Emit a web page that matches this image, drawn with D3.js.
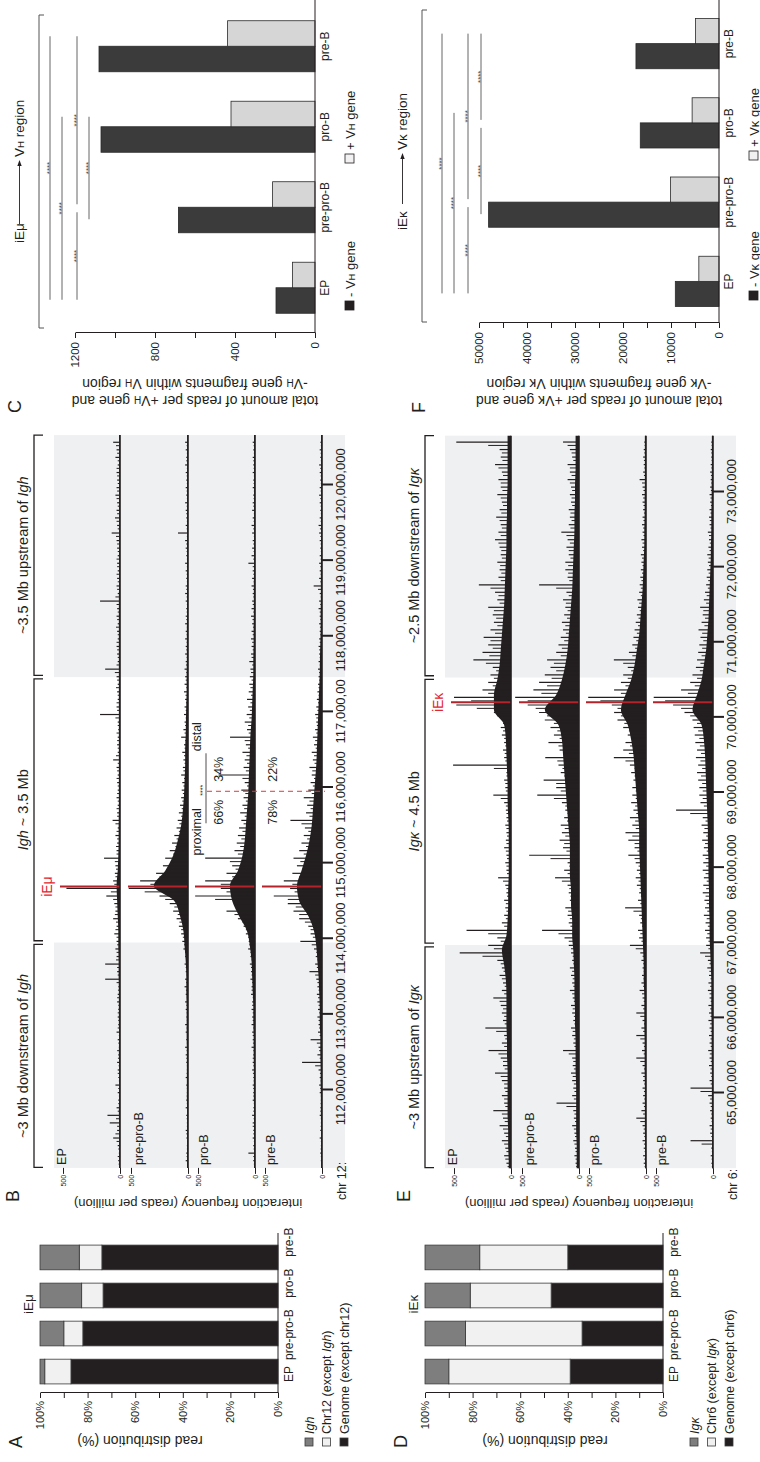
<!DOCTYPE html>
<html>
<head>
<meta charset="utf-8">
<script src="https://cdn.jsdelivr.net/npm/d3@7"></script>
<style>
  body { margin: 0; background: #fff; }
  svg text { font-family: "Liberation Sans", Arial, Helvetica, sans-serif; }
</style>
</head>
<body>
<svg id="fig" width="760" height="1462"></svg>
<script>
var stages = ['EP', 'pre-pro-B', 'pro-B', 'pre-B'];

// A / D: read distribution (%), stacked from the bottom
var ighGenome = [87, 82, 73.5, 74];
var ighChr12 = [11, 8, 9, 9.5];
var ighLocus = [2, 10, 17.5, 16.5];
var igkGenome = [39, 34, 47, 40];
var igkChr6 = [51, 49, 34, 37];
var igkLocus = [10, 17, 19, 23];
var pctTicks = [0, 10, 20, 30, 40, 50, 60, 70, 80, 90, 100];

// C / F: reads per gene fragment
var vhMinus = [195, 683, 1070, 1080];
var vhPlus = [113, 212, 420, 437];
var vkMinus = [9100, 48000, 16400, 17300];
var vkPlus = [4200, 10100, 5600, 4900];
var vhTicks = [0, 200, 400, 600, 800, 1000, 1200];
var vhTickLabels = [0, 400, 800, 1200];
var vkTicks = [0, 5000, 10000, 15000, 20000, 25000, 30000, 35000, 40000, 45000, 50000];
var vkTickLabels = [0, 10000, 20000, 30000, 40000, 50000];
// comparisons: from stage, to stage, row
var vhSig = [[0, 3, 0], [0, 2, 1], [0, 1, 2], [1, 3, 2], [1, 2, 3]];
var vkSig = [[0, 3, 0], [0, 2, 1], [0, 1, 2], [1, 3, 2], [1, 2, 3], [2, 3, 3]];

// B: Igh 4C tracks, reads per million.
// peaks = tallest spike per 0.1 Mb bin (from 111.0), grass = smaller spikes between them,
// floor = dense low signal per 0.2 Mb bin
var ighStart = 111.0;
var ighTicks = [112, 113, 114, 115, 116, 117, 118, 119, 120];
var ighTickLabels = ['112,000,000', '113,000,000', '114,000,000', '115,000,000', '116,000,000',
  '117,000,00', '118,000,000', '119,000,000', '120,000,000'];
var ighRegions = [[110.97, 113.95], [113.95, 117.46], [117.46, 120.66]];
var ighEnh = 114.69;
var ighSplit = 115.95;
var ighSplitPct = [[66, 34], [78, 22]];

var ighEP = [
  15, 10, 20, 60, 25, 90, 110, 30, 15, 20,
  40, 15, 20, 25, 15, 10, 20, 30, 15, 20,
  15, 25, 20, 15, 130, 25, 130, 30, 40, 30,
  50, 30, 60, 40, 50, 120, 470, 60, 45, 40,
  140, 30, 25, 40, 20, 65, 25, 20, 30, 20,
  25, 20, 30, 60, 20, 25, 20, 15, 20, 175,
  30, 20, 25, 20, 30, 130, 20, 25, 30, 20,
  25, 20, 30, 25, 175, 20, 30, 25, 20, 25,
  20, 25, 30, 73, 25, 44, 30, 25, 40, 30,
  25, 30, 20, 40, 30, 60];
var ighEPGrass = [
  12, 20, 15, 30, 40, 25, 35, 20, 15, 10,
  15, 10, 20, 12, 18, 25, 15, 10, 20, 15,
  20, 15, 25, 18, 30, 20, 25, 35, 30, 25,
  30, 40, 35, 45, 40, 60, 80, 50, 40, 35,
  45, 30, 35, 25, 30, 40, 25, 30, 20, 25,
  20, 30, 25, 20, 35, 20, 25, 30, 20, 40,
  25, 30, 20, 35, 25, 45, 30, 20, 25, 30,
  20, 35, 25, 20, 30, 40, 25, 20, 30, 25,
  30, 20, 25, 35, 20, 30, 25, 20, 30, 25,
  20, 25, 30, 20, 25, 35];
var ighPrePro = [
  20, 15, 10, 15, 20, 10, 15, 20, 15, 10,
  15, 20, 10, 15, 20, 25, 15, 20, 25, 15,
  20, 25, 20, 30, 25, 20, 30, 25, 40, 50,
  60, 80, 100, 130, 160, 250, 520, 420, 280, 220,
  200, 160, 140, 120, 100, 90, 80, 70, 60, 55,
  50, 60, 45, 40, 50, 35, 60, 40, 30, 35,
  30, 25, 35, 30, 25, 30, 20, 25, 20, 25,
  20, 25, 20, 15, 20, 25, 20, 15, 20, 25,
  15, 20, 25, 88, 20, 15, 20, 25, 15, 20,
  15, 20, 25, 15, 20, 25];
var ighPreProGrass = [
  8, 12, 10, 8, 15, 10, 12, 8, 10, 12,
  10, 8, 12, 10, 15, 12, 10, 8, 12, 10,
  12, 15, 10, 18, 15, 12, 20, 15, 25, 35,
  45, 60, 75, 90, 120, 200, 380, 330, 250, 180,
  150, 130, 110, 100, 80, 75, 60, 55, 50, 45,
  40, 35, 40, 30, 35, 30, 25, 30, 25, 20,
  20, 18, 22, 15, 20, 15, 18, 12, 15, 12,
  12, 10, 15, 12, 10, 12, 15, 10, 12, 10,
  10, 12, 15, 10, 12, 10, 15, 12, 10, 12,
  10, 12, 10, 15, 10, 12];
var ighPro = [
  15, 58, 15, 20, 15, 20, 25, 15, 20, 15,
  20, 15, 25, 20, 15, 30, 20, 25, 30, 25,
  30, 25, 35, 30, 40, 35, 45, 40, 60, 55,
  80, 100, 150, 250, 180, 525, 300, 437, 250, 200,
  437, 180, 160, 150, 140, 120, 130, 110, 100, 120,
  90, 320, 100, 90, 110, 80, 219, 70, 90, 73,
  60, 70, 55, 50, 45, 40, 50, 35, 30, 35,
  30, 25, 35, 30, 25, 20, 30, 25, 20, 58,
  30, 25, 20, 25, 30, 20, 25, 20, 15, 20,
  15, 20, 15, 20, 15, 20];
var ighProGrass = [
  10, 15, 12, 10, 15, 20, 12, 15, 10, 15,
  15, 12, 18, 15, 20, 15, 18, 20, 15, 20,
  20, 25, 20, 30, 25, 30, 35, 30, 40, 50,
  60, 80, 110, 180, 150, 350, 250, 300, 200, 170,
  220, 150, 130, 120, 110, 100, 90, 95, 80, 85,
  70, 110, 80, 70, 75, 60, 90, 55, 60, 50,
  45, 40, 35, 40, 30, 35, 25, 30, 20, 25,
  20, 18, 22, 15, 20, 15, 18, 12, 15, 20,
  15, 12, 15, 10, 15, 12, 10, 15, 12, 10,
  12, 10, 12, 15, 10, 12];
var ighPre = [
  10, 15, 10, 20, 15, 10, 20, 15, 10, 20,
  25, 20, 30, 175, 40, 30, 100, 35, 30, 40,
  35, 40, 45, 40, 50, 110, 60, 55, 70, 190,
  100, 120, 200, 250, 300, 423, 280, 335, 260, 220,
  250, 200, 180, 160, 150, 277, 140, 130, 160, 120,
  100, 90, 110, 80, 90, 70, 80, 60, 50, 60,
  50, 45, 40, 35, 30, 35, 30, 25, 30, 25,
  20, 25, 20, 30, 25, 20, 73, 25, 20, 25,
  20, 15, 20, 25, 30, 20, 15, 20, 25, 20,
  15, 20, 25, 15, 20, 15];
var ighPreGrass = [
  8, 10, 12, 10, 8, 12, 10, 15, 12, 10,
  15, 12, 18, 60, 20, 25, 45, 20, 25, 30,
  25, 30, 35, 30, 40, 60, 45, 40, 50, 90,
  80, 100, 150, 200, 230, 300, 240, 260, 200, 170,
  190, 160, 140, 130, 120, 180, 110, 100, 110, 90,
  80, 70, 85, 65, 70, 55, 60, 50, 45, 50,
  40, 35, 30, 30, 25, 25, 20, 20, 25, 20,
  15, 18, 15, 20, 15, 12, 35, 15, 12, 15,
  12, 10, 12, 15, 18, 12, 10, 12, 15, 12,
  10, 12, 15, 10, 12, 10];
var ighEPFloor = [8, 8, 8, 10, 8, 8, 8, 10, 8, 10, 10, 10, 12, 12, 15, 15, 20, 25, 30, 20,
  15, 12, 12, 10, 10, 10, 10, 10, 10, 10, 10, 10, 10, 10, 10, 10, 10, 10, 8, 8, 8, 8, 8, 8, 8, 8, 8, 8];
var ighPreProFloor = [8, 8, 8, 8, 10, 10, 10, 10, 12, 12, 12, 15, 15, 20, 30, 40, 70, 120, 300, 200,
  130, 90, 60, 45, 35, 30, 25, 25, 20, 18, 15, 12, 12, 10, 10, 10, 8, 8, 8, 8, 8, 8, 8, 8, 8, 8, 8, 8];
var ighProFloor = [8, 8, 8, 8, 10, 10, 10, 12, 12, 15, 15, 20, 25, 30, 45, 70, 140, 200, 220, 150,
  110, 90, 80, 70, 60, 55, 50, 45, 40, 30, 25, 20, 15, 15, 12, 12, 10, 10, 10, 8, 8, 8, 8, 8, 8, 8, 8, 8];
var ighPreFloor = [8, 8, 8, 10, 10, 12, 12, 15, 15, 20, 20, 25, 30, 40, 50, 70, 120, 200, 220, 180,
  140, 110, 90, 80, 70, 60, 50, 45, 40, 35, 30, 25, 20, 18, 15, 12, 12, 10, 10, 10, 8, 8, 8, 8, 8, 8, 8, 8];

// E: Igk 4C tracks, 0.1 Mb bins from 64.0, floor 0.2 Mb bins
var igkStart = 64.0;
var igkTicks = [65, 66, 67, 68, 69, 70, 71, 72, 73];
var igkTickLabels = ['65,000,000', '66,000,000', '67,000,000', '68,000,000', '69,000,000',
  '70,000,000', '71,000,000', '72,000,000', '73,000,000'];
var igkRegions = [[64.0, 66.97], [66.97, 70.53], [70.53, 73.75]];
var igkEnh = 70.2;

var igkEP = [
  40, 60, 50, 80, 60, 100, 70, 155, 60, 80,
  60, 80, 140, 70, 90, 197, 80, 60, 225, 70,
  80, 90, 155, 80, 70, 100, 80, 120, 450, 200,
  120, 390, 80, 60, 50, 60, 40, 50, 113, 40,
  50, 40, 60, 45, 40, 50, 40, 45, 60, 155,
  50, 60, 40, 508, 60, 70, 60, 80, 90, 80,
  150, 480, 500, 250, 200, 180, 160, 330, 250, 200,
  240, 180, 150, 160, 200, 120, 140, 282, 110, 100,
  120, 90, 100, 140, 110, 90, 130, 100, 80, 120,
  90, 110, 80, 140, 90, 100, 480];
var igkEPGrass = [
  30, 50, 40, 60, 45, 70, 55, 80, 50, 60,
  50, 60, 90, 55, 70, 110, 60, 50, 130, 55,
  60, 70, 100, 60, 55, 80, 65, 90, 250, 150,
  90, 200, 60, 45, 40, 45, 35, 40, 70, 35,
  40, 35, 45, 40, 35, 40, 35, 40, 45, 90,
  45, 50, 40, 150, 50, 55, 50, 60, 70, 70,
  120, 300, 350, 200, 160, 150, 130, 220, 190, 160,
  180, 140, 120, 130, 150, 100, 110, 180, 90, 85,
  95, 80, 85, 110, 90, 80, 100, 85, 70, 90,
  75, 90, 70, 110, 75, 80, 200];
var igkPrePro = [
  30, 40, 35, 50, 40, 60, 45, 50, 197, 60,
  50, 60, 70, 55, 60, 140, 50, 60, 70, 50,
  60, 70, 55, 80, 60, 70, 80, 60, 70, 90,
  127, 324, 90, 100, 120, 80, 90, 100, 210, 130,
  100, 437, 140, 170, 150, 160, 130, 120, 150, 366,
  200, 310, 160, 180, 296, 170, 268, 220, 250, 300,
  350, 450, 560, 400, 350, 300, 250, 280, 200, 180,
  160, 140, 150, 130, 120, 140, 110, 350, 100, 120,
  120, 90, 110, 100, 155, 90, 80, 90, 70, 80,
  70, 100, 80, 100, 60, 80, 140];
var igkPreProGrass = [
  25, 30, 30, 40, 35, 45, 35, 40, 110, 45,
  40, 45, 55, 45, 50, 90, 40, 45, 55, 40,
  45, 55, 45, 60, 50, 55, 60, 50, 55, 70,
  90, 180, 75, 80, 95, 70, 75, 85, 150, 100,
  85, 250, 110, 130, 120, 125, 105, 100, 120, 220,
  160, 200, 130, 145, 190, 140, 180, 170, 190, 220,
  280, 380, 450, 330, 280, 240, 200, 220, 160, 150,
  130, 115, 120, 105, 100, 115, 90, 200, 85, 95,
  95, 75, 90, 80, 110, 75, 65, 75, 60, 65,
  60, 80, 65, 80, 50, 65, 100];
var igkPro = [
  20, 25, 20, 30, 25, 30, 85, 40, 30, 25,
  30, 25, 40, 30, 85, 35, 30, 85, 40, 30,
  85, 40, 30, 56, 40, 35, 30, 40, 50, 141,
  60, 70, 50, 60, 183, 70, 60, 80, 90, 80,
  90, 155, 100, 155, 180, 120, 141, 110, 130, 120,
  120, 110, 130, 141, 282, 200, 180, 160, 200, 250,
  280, 300, 507, 280, 220, 200, 160, 282, 150, 120,
  110, 100, 90, 80, 70, 75, 60, 55, 50, 45,
  40, 45, 35, 40, 30, 35, 30, 25, 30, 35,
  30, 56, 25, 20, 25, 20, 15];
var igkProGrass = [
  12, 15, 12, 18, 15, 20, 50, 25, 18, 15,
  18, 15, 25, 18, 50, 20, 18, 50, 25, 18,
  50, 25, 20, 35, 25, 22, 20, 25, 30, 90,
  40, 50, 35, 45, 110, 50, 45, 55, 65, 60,
  65, 100, 75, 100, 120, 90, 95, 85, 95, 90,
  90, 85, 100, 100, 180, 150, 140, 125, 150, 190,
  220, 250, 400, 220, 180, 160, 130, 200, 120, 95,
  85, 80, 70, 65, 55, 60, 45, 45, 40, 35,
  30, 35, 25, 30, 22, 25, 22, 18, 22, 25,
  22, 35, 18, 15, 18, 15, 12];
var igkPre = [
  15, 20, 15, 197, 25, 30, 20, 25, 30, 42,
  197, 30, 25, 35, 30, 42, 30, 35, 30, 40,
  35, 40, 30, 45, 40, 35, 50, 45, 113, 60,
  60, 70, 65, 80, 70, 75, 90, 85, 80, 90,
  85, 90, 80, 95, 85, 100, 90, 324, 110, 120,
  120, 130, 140, 130, 150, 140, 155, 160, 170, 180,
  250, 350, 520, 280, 200, 180, 150, 140, 130, 120,
  110, 127, 100, 90, 113, 80, 70, 60, 55, 50,
  45, 50, 40, 35, 45, 30, 35, 30, 25, 30,
  25, 20, 25, 20, 15, 20, 15];
var igkPreGrass = [
  10, 12, 10, 100, 15, 20, 12, 15, 20, 25,
  110, 20, 15, 22, 20, 28, 20, 22, 20, 25,
  22, 25, 20, 30, 25, 22, 32, 30, 70, 40,
  40, 50, 45, 55, 50, 55, 65, 60, 55, 65,
  60, 65, 55, 70, 60, 75, 65, 200, 80, 90,
  90, 95, 105, 95, 110, 105, 115, 120, 130, 140,
  200, 280, 420, 220, 160, 140, 115, 110, 100, 95,
  85, 95, 75, 70, 85, 60, 55, 45, 42, 38,
  35, 38, 30, 28, 35, 22, 28, 22, 18, 22,
  18, 15, 18, 15, 12, 15, 12];
var igkEPFloor = [20, 25, 25, 30, 30, 30, 30, 35, 35, 40, 40, 40, 45, 60, 80, 40, 30, 25, 25, 20,
  20, 20, 20, 25, 30, 30, 35, 40, 45, 60, 150, 150, 120, 100, 90, 80, 70, 60, 55, 50,
  45, 40, 40, 35, 35, 30, 30, 30, 30];
var igkPreProFloor = [20, 20, 25, 25, 25, 25, 30, 30, 30, 35, 35, 40, 40, 45, 50, 60, 60, 70, 70, 80,
  80, 80, 90, 100, 110, 120, 130, 140, 150, 180, 300, 200, 150, 120, 100, 90, 80, 70, 60, 55,
  50, 45, 40, 40, 35, 35, 30, 30, 30];
var igkProFloor = [8, 8, 10, 10, 10, 10, 12, 12, 12, 15, 15, 15, 20, 20, 25, 30, 35, 40, 45, 50,
  55, 60, 60, 70, 80, 90, 100, 110, 130, 160, 220, 180, 130, 100, 80, 60, 50, 40, 30, 25,
  20, 15, 15, 12, 12, 10, 10, 10, 10];
var igkPreFloor = [8, 8, 8, 10, 10, 10, 10, 12, 12, 12, 15, 15, 15, 20, 25, 30, 30, 35, 35, 40,
  40, 45, 45, 50, 55, 60, 65, 70, 80, 100, 180, 140, 100, 80, 60, 50, 40, 35, 30, 25,
  20, 18, 15, 15, 12, 12, 10, 10, 10];

var INK = '#231f20';
var svg = d3.select('#fig');
svg.append('rect').attr('width', 760).attr('height', 1462).attr('fill', '#fff');
// the figure is laid out in landscape and turned a quarter to the left
var root = svg.append('g').attr('transform', 'translate(0,1462) rotate(-90)');

function addText(g, x, y, parts, o) {
  o = o || {};
  var t = g.append('text').attr('x', x).attr('y', y)
    .attr('font-size', o.size || 11)
    .attr('text-anchor', o.anchor || 'start')
    .attr('fill', o.fill || INK);
  if (o.rotate) t.attr('transform', 'rotate(' + o.rotate + ',' + x + ',' + y + ')');
  if (typeof parts === 'string') parts = [[parts]];
  parts.forEach(function(p) {
    var s = t.append('tspan').text(p[0]);
    if (p[1] === 'i') s.attr('font-style', 'italic');
    if (p[1] === 'sub') s.attr('font-size', '0.72em');
  });
  return t;
}

function styleAxis(ax, size) {
  ax.attr('font-family', null).attr('font-size', size);
  ax.selectAll('line').attr('stroke', INK);
  ax.select('.domain').attr('stroke', INK);
  ax.selectAll('text').attr('fill', INK);
}

// ---------- A / D ----------
function stackPanel(o) {
  var g = root.append('g').attr('transform', 'translate(0,' + o.dy + ')');
  var x = d3.scaleBand().domain(stages).range([72, 223]).paddingInner(0.35).paddingOuter(0.16);
  var y = d3.scaleLinear().domain([0, 100]).range([278, 40]);
  var rows = stages.map(function(s, i) {
    return {stage: s, genome: o.genome[i], chr: o.chr[i], locus: o.locus[i]};
  });
  var fills = ['#231f20', '#f1f1f1', '#7e7e7e'];
  var series = d3.stack().keys(['genome', 'chr', 'locus'])(rows);

  g.selectAll('g.layer').data(series).enter().append('g')
      .attr('fill', function(d, i) { return fills[i]; })
    .selectAll('rect').data(function(d) { return d; }).enter().append('rect')
      .attr('x', function(d) { return x(d.data.stage); })
      .attr('width', x.bandwidth())
      .attr('y', function(d) { return y(d[1]); })
      .attr('height', function(d) { return y(d[0]) - y(d[1]); })
      .attr('stroke', '#3a3a3a')
      .attr('stroke-width', 0.8);

  var ax = g.append('g').attr('transform', 'translate(69,0)')
    .call(d3.axisLeft(y).tickValues(pctTicks).tickSize(5).tickSizeOuter(0).tickPadding(3)
      .tickFormat(function(d) { return d % 20 === 0 ? d + '%' : ''; }));
  styleAxis(ax, 11);

  g.append('line').attr('x1', 69).attr('x2', 229).attr('y1', y(0)).attr('y2', y(0))
    .attr('stroke', INK).attr('stroke-width', 1);

  // stage names sit under the bars, nudged apart so they do not collide
  var nudge = [2, -14, 10, 13];
  stages.forEach(function(s, i) {
    addText(g, x(s) + nudge[i], 293, s, {size: 12});
  });

  addText(g, 158, 33, o.enh, {size: 13.5, anchor: 'middle'});
  addText(g, 14, 22, o.letter, {size: 18});
  addText(g, 26, o.titleY, 'read distribution (%)', {size: 14, anchor: 'middle', rotate: -90});

  var legFill = ['#7e7e7e', '#f1f1f1', '#231f20'];
  o.legend.forEach(function(parts, i) {
    g.append('rect').attr('x', 16).attr('y', 305 + i * 17.5).attr('width', 8).attr('height', 8)
      .attr('fill', legFill[i]).attr('stroke', '#3a3a3a').attr('stroke-width', 0.8);
    addText(g, 28, 313.5 + i * 17.5, parts, {size: 12.5});
  });
}

// ---------- B / E ----------
function trackPanel(o) {
  var g = root.append('g').attr('transform', 'translate(0,' + o.dy + ')');
  var x = d3.scaleLinear().domain(o.mbRef).range(o.xRef);
  var x0 = x(o.domain[0]), x1 = x(o.domain[1]);
  var bases = [120, 188, 255, 322];
  var labelY = [66, 143, 208, 275];
  var yr = d3.scaleLinear().domain([0, 500]).range([0, 57]);

  [o.regions[0], o.regions[2]].forEach(function(r) {
    g.append('rect').attr('x', x(r[0])).attr('y', 54).attr('width', x(r[1]) - x(r[0])).attr('height', 291)
      .attr('fill', '#eff0f2');
  });

  o.regions.forEach(function(r, i) {
    var a = x(r[0]) + (i > 0 ? 1.8 : 0.5), b = x(r[1]) - (i < 2 ? 1.8 : 0);
    g.append('path').attr('d', 'M' + a + ',43V34H' + b + 'V43')
      .attr('fill', 'none').attr('stroke', INK).attr('stroke-width', 1.3);
    addText(g, (a + b) / 2, 28, o.regionLabels[i], {size: 14.5, anchor: 'middle'});
  });

  o.tracks.forEach(function(t, i) {
    var base = bases[i];
    var yv = function(v) { return base - yr(Math.min(v, 560)); };
    var fl = t.floor.map(function(v, j) { return [o.start + 0.2 * j + 0.1, v]; });
    fl.unshift([o.domain[0], t.floor[0]]);
    fl.push([o.domain[1], t.floor[t.floor.length - 1]]);
    g.append('path')
      .attr('d', d3.area().x(function(d) { return x(d[0]); }).y0(base)
        .y1(function(d) { return yv(d[1]); }).curve(d3.curveMonotoneX)(fl))
      .attr('fill', INK);

    var sp = g.append('g').attr('stroke', INK);
    var gx = function(v, j) { return x(o.start + 0.1 * j + 0.02); };
    sp.selectAll('line.g').data(t.grass).enter().append('line').attr('class', 'g')
      .attr('x1', gx).attr('x2', gx).attr('y1', base).attr('y2', yv)
      .attr('stroke-width', 1);
    var px = function(v, j) { return x(o.start + 0.1 * j + 0.065); };
    sp.selectAll('line.s').data(t.peaks).enter().append('line').attr('class', 's')
      .attr('x1', px).attr('x2', px).attr('y1', base).attr('y2', yv)
      .attr('stroke-width', 1.2);

    g.append('line').attr('x1', x(o.enh)).attr('x2', x(o.enh)).attr('y1', base).attr('y2', base - 60)
      .attr('stroke', '#b5222a').attr('stroke-width', 2);

    g.append('line').attr('x1', x0).attr('x2', x1).attr('y1', base).attr('y2', base)
      .attr('stroke', INK).attr('stroke-width', 1.6);

    var ty = d3.scaleLinear().domain([0, 500]).range([base, base - 57]);
    var ax = g.append('g').attr('transform', 'translate(' + x0 + ',0)')
      .call(d3.axisLeft(ty).tickValues([0, 500]).tickSize(6).tickSizeOuter(0).tickPadding(1));
    styleAxis(ax, 7);
    ax.select('.domain').remove();

    addText(g, x0 + 3, labelY[i], stages[i], {size: 12.5});
  });

  var xa = g.append('g').attr('transform', 'translate(0,' + bases[3] + ')')
    .call(d3.axisBottom(x).tickValues(o.ticks).tickSize(11).tickSizeOuter(0).tickPadding(3)
      .tickFormat(function(d, i) { return o.tickLabels[i]; }));
  styleAxis(xa, 13);
  xa.select('.domain').remove();
  xa.selectAll('.tick line').attr('stroke-width', 2);

  addText(g, 262, 346, o.chr, {size: 12.5});
  addText(g, 263, 188, 'interaction frequency (reads per million)', {size: 13, anchor: 'middle', rotate: -90});
  addText(g, 260, 19, o.letter, {size: 18});
  addText(g, x(o.enh), 52, o.enhLabel, {size: 14, anchor: 'middle', fill: '#e3262d'});

  if (o.split) {
    var xs = x(o.split);
    g.append('line').attr('x1', xs).attr('x2', xs).attr('y1', 207).attr('y2', 325)
      .attr('stroke', '#e0393e').attr('stroke-width', 1).attr('stroke-dasharray', '5,4');
    addText(g, xs - 17, 201, 'proximal', {size: 12.5, anchor: 'end'});
    addText(g, xs + 40, 201, 'distal', {size: 12.5});
    g.append('line').attr('x1', xs - 32).attr('x2', xs + 38).attr('y1', 206).attr('y2', 206)
      .attr('stroke', INK).attr('stroke-width', 0.8);
    addText(g, xs + 1, 205, '****', {size: 7, anchor: 'middle'});
    var pctY = [223, 277];
    o.splitPct.forEach(function(p, i) {
      addText(g, xs - 21, pctY[i], p[0] + '%', {size: 12.5, anchor: 'middle'});
      addText(g, xs + 22, pctY[i], p[1] + '%', {size: 12.5, anchor: 'middle'});
    });
  }
}

// ---------- C / F ----------
function barPanel(o) {
  var g = root.append('g');
  var x0 = d3.scaleBand().domain(stages).range(o.xr).paddingInner(0.366).paddingOuter(0.183);
  var x1 = d3.scaleBand().domain(['minus', 'plus']).range([0, x0.bandwidth()]);
  var y = d3.scaleLinear().domain([0, o.max]).range([o.y0, o.y0 - 240]);
  var rows = stages.map(function(s, i) { return {stage: s, minus: o.minus[i], plus: o.plus[i]}; });

  g.selectAll('g.cat').data(rows).enter().append('g')
      .attr('transform', function(d) { return 'translate(' + x0(d.stage) + ',0)'; })
    .selectAll('rect').data(function(d) { return [['minus', d.minus], ['plus', d.plus]]; })
    .enter().append('rect')
      .attr('x', function(d) { return x1(d[0]); })
      .attr('width', x1.bandwidth())
      .attr('y', function(d) { return y(d[1]); })
      .attr('height', function(d) { return o.y0 - y(d[1]); })
      .attr('fill', function(d) { return d[0] === 'minus' ? '#3b3b3b' : '#d6d6d6'; })
      .attr('stroke', '#2a2a2a').attr('stroke-width', 0.8);

  var ax = g.append('g').attr('transform', 'translate(' + o.ax + ',0)')
    .call(d3.axisLeft(y).tickValues(o.ticks).tickSize(5).tickSizeOuter(0).tickPadding(4)
      .tickFormat(function(d) { return o.labels.indexOf(d) >= 0 ? d : ''; }));
  styleAxis(ax, 11.5);

  g.append('line').attr('x1', o.ax).attr('x2', 1462).attr('y1', o.y0).attr('y2', o.y0)
    .attr('stroke', INK).attr('stroke-width', 1);

  stages.forEach(function(s) {
    addText(g, x0(s) + x0.bandwidth() / 2, o.y0 + 14, s, {size: 12, anchor: 'middle'});
  });

  // legend
  var ly = o.y0 + 30;
  [['#231f20', o.legend[0], o.legX[0]], ['#f1f1f1', o.legend[1], o.legX[1]]].forEach(function(l) {
    g.append('rect').attr('x', l[2]).attr('y', ly).attr('width', 9).attr('height', 9)
      .attr('fill', l[0]).attr('stroke', INK).attr('stroke-width', 0.8);
    addText(g, l[2] + 13, ly + 9.5, l[1], {size: 13});
  });

  // bracket and header
  g.append('path').attr('d', 'M' + o.br[0] + ',' + (o.brY + 5) + 'V' + o.brY + 'H' + o.br[1] + 'V' + (o.brY + 5))
    .attr('fill', 'none').attr('stroke', '#555').attr('stroke-width', 1);
  addText(g, o.head[0], o.brY - 15, o.enh, {size: 13.5});
  g.append('line').attr('x1', o.head[1]).attr('x2', o.head[2] - 4).attr('y1', o.brY - 19.5).attr('y2', o.brY - 19.5)
    .attr('stroke', INK).attr('stroke-width', 0.9);
  g.append('path').attr('d', 'M' + o.head[2] + ',' + (o.brY - 19.5) + 'l-6,-2.2v4.4z').attr('fill', INK);
  addText(g, o.head[2] + 3, o.brY - 15, o.target, {size: 13.5});

  // significance
  o.sig.forEach(function(s) {
    var shareStart = o.sig.some(function(t) { return t !== s && t[2] === s[2] && t[1] === s[0]; });
    var shareEnd = o.sig.some(function(t) { return t !== s && t[2] === s[2] && t[0] === s[1]; });
    var ca = x0(stages[s[0]]) + x0.bandwidth() / 2, cb = x0(stages[s[1]]) + x0.bandwidth() / 2;
    var a = shareStart ? ca + 3 : ca - 12, b = shareEnd ? cb - 5 : cb + 10;
    var ly2 = o.sigY[s[2]];
    g.append('line').attr('x1', a).attr('x2', b).attr('y1', ly2).attr('y2', ly2)
      .attr('stroke', '#555').attr('stroke-width', 0.9);
    addText(g, (a + b) / 2, ly2 + 1.5, '****', {size: 8, anchor: 'middle', fill: '#444'});
  });

  addText(g, 1049, o.y0 - 294, o.letter, {size: 18});
  addText(g, 1066, o.y0 - 120, o.title[0], {size: 14, anchor: 'middle', rotate: -90});
  addText(g, 1083, o.y0 - 120, o.title[1], {size: 14, anchor: 'middle', rotate: -90});
}

stackPanel({dy: 0, letter: 'A', enh: 'iEμ', genome: ighGenome, chr: ighChr12, locus: ighLocus, titleY: 140,
  legend: [[['Igh', 'i']], [['Chr12 (except '], ['Igh', 'i'], [')']], [['Genome (except chr12)']]]});
stackPanel({dy: 385, letter: 'D', enh: 'iEκ', genome: igkGenome, chr: igkChr6, locus: igkLocus, titleY: 160,
  legend: [[['Igκ', 'i']], [['Chr6 (except '], ['Igκ', 'i'], [')']], [['Genome (except chr6)']]]});

trackPanel({
  dy: 0, letter: 'B', chr: 'chr 12:', mbRef: [112, 120], xRef: [372, 977],
  domain: [110.97, 120.66], start: ighStart, regions: ighRegions,
  regionLabels: [[['~3 Mb downstream of '], ['Igh', 'i']], [['Igh', 'i'], [' ~ 3.5 Mb']],
    [['~3.5 Mb upstream of '], ['Igh', 'i']]],
  ticks: ighTicks, tickLabels: ighTickLabels, enh: ighEnh, enhLabel: 'iEμ',
  split: ighSplit, splitPct: ighSplitPct,
  tracks: [{peaks: ighEP, grass: ighEPGrass, floor: ighEPFloor},
    {peaks: ighPrePro, grass: ighPreProGrass, floor: ighPreProFloor},
    {peaks: ighPro, grass: ighProGrass, floor: ighProFloor},
    {peaks: ighPre, grass: ighPreGrass, floor: ighPreFloor}]
});
trackPanel({
  dy: 391, letter: 'E', chr: 'chr 6:', mbRef: [65, 73], xRef: [369, 970],
  domain: [64.0, 73.75], start: igkStart, regions: igkRegions,
  regionLabels: [[['~3 Mb upstream of '], ['Igκ', 'i']], [['Igκ', 'i'], [' ~ 4.5 Mb']],
    [['~2.5 Mb downstream of '], ['Igκ', 'i']]],
  ticks: igkTicks, tickLabels: igkTickLabels, enh: igkEnh, enhLabel: 'iEκ',
  tracks: [{peaks: igkEP, grass: igkEPGrass, floor: igkEPFloor},
    {peaks: igkPrePro, grass: igkPreProGrass, floor: igkPreProFloor},
    {peaks: igkPro, grass: igkProGrass, floor: igkProFloor},
    {peaks: igkPre, grass: igkPreGrass, floor: igkPreFloor}]
});

barPanel({
  letter: 'C', minus: vhMinus, plus: vhPlus, max: 1200, ticks: vhTicks, labels: vhTickLabels,
  y0: 315, ax: 1129, xr: [1134, 1456], sig: vhSig, sigY: [50, 62, 77, 89],
  br: [1134, 1447], brY: 39, head: [1219, 1238, 1302],
  enh: 'iEμ', target: [['V'], ['H', 'sub'], [' region']],
  legend: [[['- V'], ['H', 'sub'], [' gene']], [['+ V'], ['H', 'sub'], [' gene']]], legX: [1152, 1299],
  title: [[['total amount of reads per +V'], ['H', 'sub'], [' gene and']],
    [['-V'], ['H', 'sub'], [' gene fragments within V'], ['H', 'sub'], [' region']]]
});
barPanel({
  letter: 'F', minus: vkMinus, plus: vkPlus, max: 50000, ticks: vkTicks, labels: vkTickLabels,
  y0: 719, ax: 1139, xr: [1141, 1458], sig: vkSig, sigY: [442, 454, 468, 481],
  br: [1140, 1452], brY: 422, head: [1232, 1258, 1309],
  enh: 'iEκ', target: 'Vκ region',
  legend: ['- Vκ gene', '+ Vκ gene'], legX: [1162, 1302],
  title: ['total amount of reads per +Vκ gene and', '-Vκ gene fragments within Vκ region']
});
</script>
</body>
</html>
